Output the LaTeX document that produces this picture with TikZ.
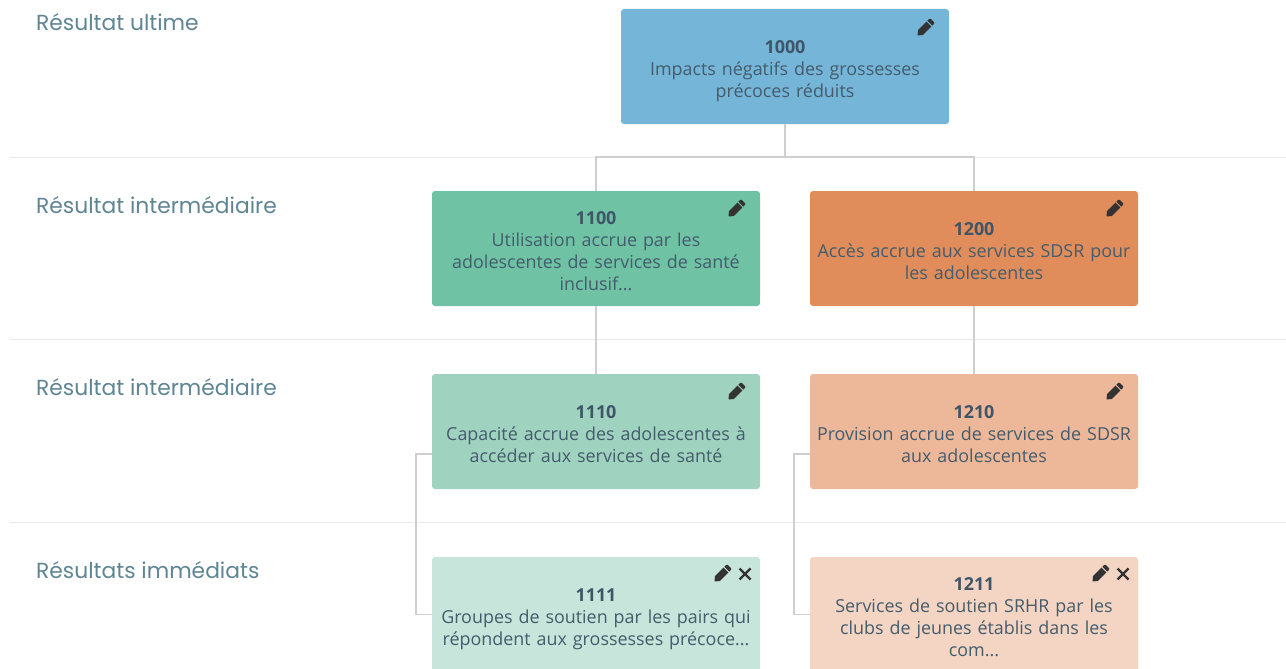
\documentclass[tikz,border=0pt]{standalone}
\usepackage{fontspec}
\setmainfont{Open Sans}
\newfontfamily\labelfont{Poppins}
\definecolor{inktext}{HTML}{445C6C}
\definecolor{inktitle}{HTML}{3F5568}
\definecolor{inklabel}{HTML}{5F8593}
\definecolor{inkicon}{HTML}{333333}
\definecolor{rulegray}{HTML}{EBEBEB}
\definecolor{linkgray}{HTML}{CFCFCF}
\definecolor{blueone}{HTML}{75B5D8}
\definecolor{greenone}{HTML}{6FC2A3}
\definecolor{greentwo}{HTML}{9FD3BF}
\definecolor{greenthree}{HTML}{C7E5DA}
\definecolor{orangeone}{HTML}{E18D5B}
\definecolor{orangetwo}{HTML}{EDB89A}
\definecolor{orangethree}{HTML}{F4D5C3}
\tikzset{
  card/.style={rectangle, rounded corners=3pt, minimum width=328pt, minimum height=115pt,
    inner sep=0pt, text width=324pt, align=center, text=inktext,
    font=\fontsize{17.9}{22}\selectfont},
  level/.style={anchor=west, text=inklabel, inner sep=0pt, font=\labelfont\fontsize{21.8}{24}\selectfont},
  link/.style={draw=linkgray, line width=1.2pt},
  sep/.style={draw=rulegray, line width=1pt},
  pencil/.pic={
    \fill[inkicon, rotate=45] (-10.5,0) -- (-6.5,-3.5) -- (5.5,-3.5) -- (5.5,3.5) -- (-6.5,3.5) -- cycle;
    \fill[inkicon, rotate=45] (6.8,-3.5) -- (9.2,-3.5) -- (10.5,-2.4) -- (10.5,2.4) -- (9.2,3.5) -- (6.8,3.5) -- cycle;
  },
  cross/.pic={
    \draw[inkicon, line width=2.2pt] (-5.5,-5.5) -- (5.5,5.5) (-5.5,5.5) -- (5.5,-5.5);
  }
}
\newcommand{\nr}[2][18]{\rule{0pt}{#1pt}{\bfseries\color{inktitle}#2}}
\begin{document}
\begin{tikzpicture}[x=1pt,y=-1pt]
\useasboundingbox (0,0) rectangle (1286,669);
\clip (0,0) rectangle (1286,669);

% Rows
\coordinate (sepA) at (10,157);
\coordinate (sepB) at (10,339);
\coordinate (sepC) at (10,522);
\draw[sep] (sepA) -- (1286,157);
\draw[sep] (sepB) -- (1286,339);
\draw[sep] (sepC) -- (1286,522);

\node[level] (lvlA) at (36,22) {Résultat ultime};
\node[level] (lvlB) at (36,205) {Résultat intermédiaire};
\node[level] (lvlC) at (36,387) {Résultat intermédiaire};
\node[level] (lvlD) at (36,570) {Résultats immédiats};

% Cards
\node[card, fill=blueone] (n1000) at (785,66.5) {\nr[22]{1000}\\Impacts négatifs des grossesses\\précoces réduits};
\node[card, fill=greenone] (n1100) at (596,248.5) {\nr{1100}\\Utilisation accrue par les\\adolescentes de services de santé\\inclusif...};
\node[card, fill=orangeone] (n1200) at (974,248.5) {\nr{1200}\\Accès accrue aux services SDSR pour\\les adolescentes};
\node[card, fill=greentwo] (n1110) at (596,431.5) {\nr{1110}\\Capacité accrue des adolescentes à\\accéder aux services de santé};
\node[card, fill=orangetwo] (n1210) at (974,431.5) {\nr{1210}\\Provision accrue de services de SDSR\\aux adolescentes};
\node[card, fill=greenthree] (n1111) at (596,614.5) {\nr[22]{1111}\\Groupes de soutien par les pairs qui\\répondent aux grossesses précoce...};
\node[card, fill=orangethree] (n1211) at (974,614.5) {\nr{1211}\\Services de soutien SRHR par les\\clubs de jeunes établis dans les\\com...};

% Links
\coordinate (busTop) at (785,157);
\coordinate (busLeft) at (416,454);
\coordinate (busRight) at (794,454);
\draw[link] (n1000.south) -- (busTop);
\draw[link] (n1100.north) -- (n1100.north |- busTop) -- (n1200.north |- busTop) -- (n1200.north);
\draw[link] (n1100.south) -- (n1110.north);
\draw[link] (n1200.south) -- (n1210.north);
\draw[link] (n1110.west |- busLeft) -- (busLeft) |- (n1111.west);
\draw[link] (n1210.west |- busRight) -- (busRight) |- (n1211.west);

% Icons
\pic at (925,28) {pencil};
\pic at (736,209) {pencil};
\pic at (1114,209) {pencil};
\pic at (736,392) {pencil};
\pic at (1114,392) {pencil};
\pic at (722,574) {pencil};
\pic at (745,574) {cross};
\pic at (1100,574) {pencil};
\pic at (1123,574) {cross};
\end{tikzpicture}
\end{document}
